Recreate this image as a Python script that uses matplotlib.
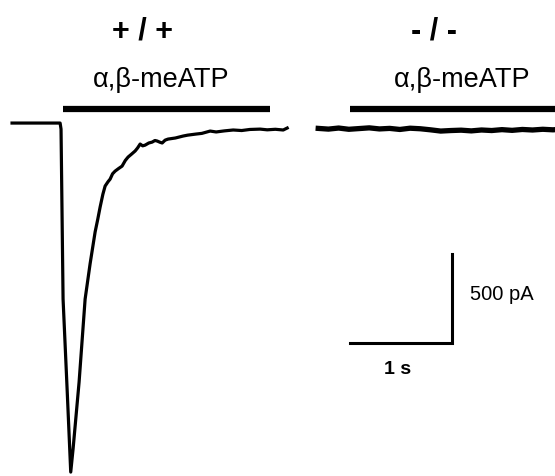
import matplotlib
matplotlib.use('Agg')
import matplotlib.pyplot as plt

plt.rcParams['font.family'] = ['Liberation Sans', 'DejaVu Sans']

# +/+ trace: time (s) and current (pA)
wt_t = [0.000, 0.471, 0.480, 0.500, 0.540, 0.575, 0.598, 0.657, 0.716, 0.765,
        0.814, 0.840, 0.863, 0.890, 0.912, 0.940, 0.961, 0.985, 1.010, 1.045,
        1.078, 1.110, 1.137, 1.170, 1.206, 1.230, 1.255, 1.280, 1.304, 1.340,
        1.373, 1.400, 1.422, 1.450, 1.471, 1.500, 1.529, 1.600, 1.676, 1.720,
        1.800, 1.860, 1.941, 2.000, 2.080, 2.167, 2.250, 2.330, 2.431, 2.500,
        2.580, 2.657, 2.696]
wt_i = [0, 0, -34, -989, -1500, -1961, -1831, -1455, -989, -790,
        -612, -540, -472, -400, -354, -330, -315, -285, -270, -255,
        -242, -210, -191, -175, -157, -140, -118, -128, -124, -112,
        -107, -98, -101, -108, -112, -96, -90, -84, -73, -68,
        -62, -58, -45, -50, -44, -39, -42, -36, -34, -38,
        -35, -39, -28]

# -/- trace
ko_t = [0.00, 0.10, 0.20, 0.30, 0.40, 0.50, 0.60, 0.70, 0.80, 0.90, 1.00,
        1.10, 1.20, 1.30, 1.40, 1.50, 1.60, 1.70, 1.80, 1.90, 2.00, 2.10,
        2.20, 2.30, 2.40]
ko_i = [-30, -34, -28, -35, -31, -27, -33, -30, -36, -29, -32,
        -38, -45, -42, -40, -44, -39, -42, -37, -41, -36, -39,
        -35, -38, -34]
ko_offset = 3.0  # s, where the -/- panel starts

# application bars (s)
wt_drug = (0.50, 2.53)
ko_drug = (0.31, 2.40)
bar_level = 81  # pA

# scale bars
sb_t0, sb_len = 3.314, 1.0      # s
sb_i0, sb_amp = -1236, 500      # pA

fig = plt.figure(figsize=(5.55, 4.77), dpi=100)
ax = fig.add_axes([0, 0, 1, 1])
ax.set_xlim(-0.118, 5.32)
ax.set_ylim(-1983, 697)
ax.axis('off')

ax.plot(wt_t, wt_i, color='black', lw=2.3, solid_joinstyle='round')
ax.plot([t + ko_offset for t in ko_t], ko_i, color='black', lw=3.8,
        solid_joinstyle='round')

ax.plot(wt_drug, [bar_level, bar_level], color='black', lw=4.5,
        solid_capstyle='butt')
ax.plot([ko_drug[0] + ko_offset, ko_drug[1] + ko_offset],
        [bar_level, bar_level], color='black', lw=4.5, solid_capstyle='butt')

ax.plot([sb_t0, sb_t0 + sb_len, sb_t0 + sb_len],
        [sb_i0, sb_i0, sb_i0 + sb_amp], color='black', lw=2.2,
        solid_joinstyle='miter')

W, H = 555, 477
def fx(x): return x / W
def fy(y): return 1 - y / H

fig.text(fx(143), fy(31), '+ / +', ha='center', va='center', fontsize=22,
         fontweight='bold')
fig.text(fx(434), fy(31), '- / -', ha='center', va='center', fontsize=22,
         fontweight='bold')
fig.text(fx(161), fy(80), 'α,β-meATP', ha='center', va='center', fontsize=19.5)
fig.text(fx(462), fy(80), 'α,β-meATP', ha='center', va='center', fontsize=19.5)
fig.text(fx(470), fy(295), '500 pA', ha='left', va='center', fontsize=14.5)
fig.text(fx(398), fy(369), '1 s', ha='center', va='center', fontsize=14,
         fontweight='bold')

plt.savefig('out.png', dpi=100, facecolor='white')
